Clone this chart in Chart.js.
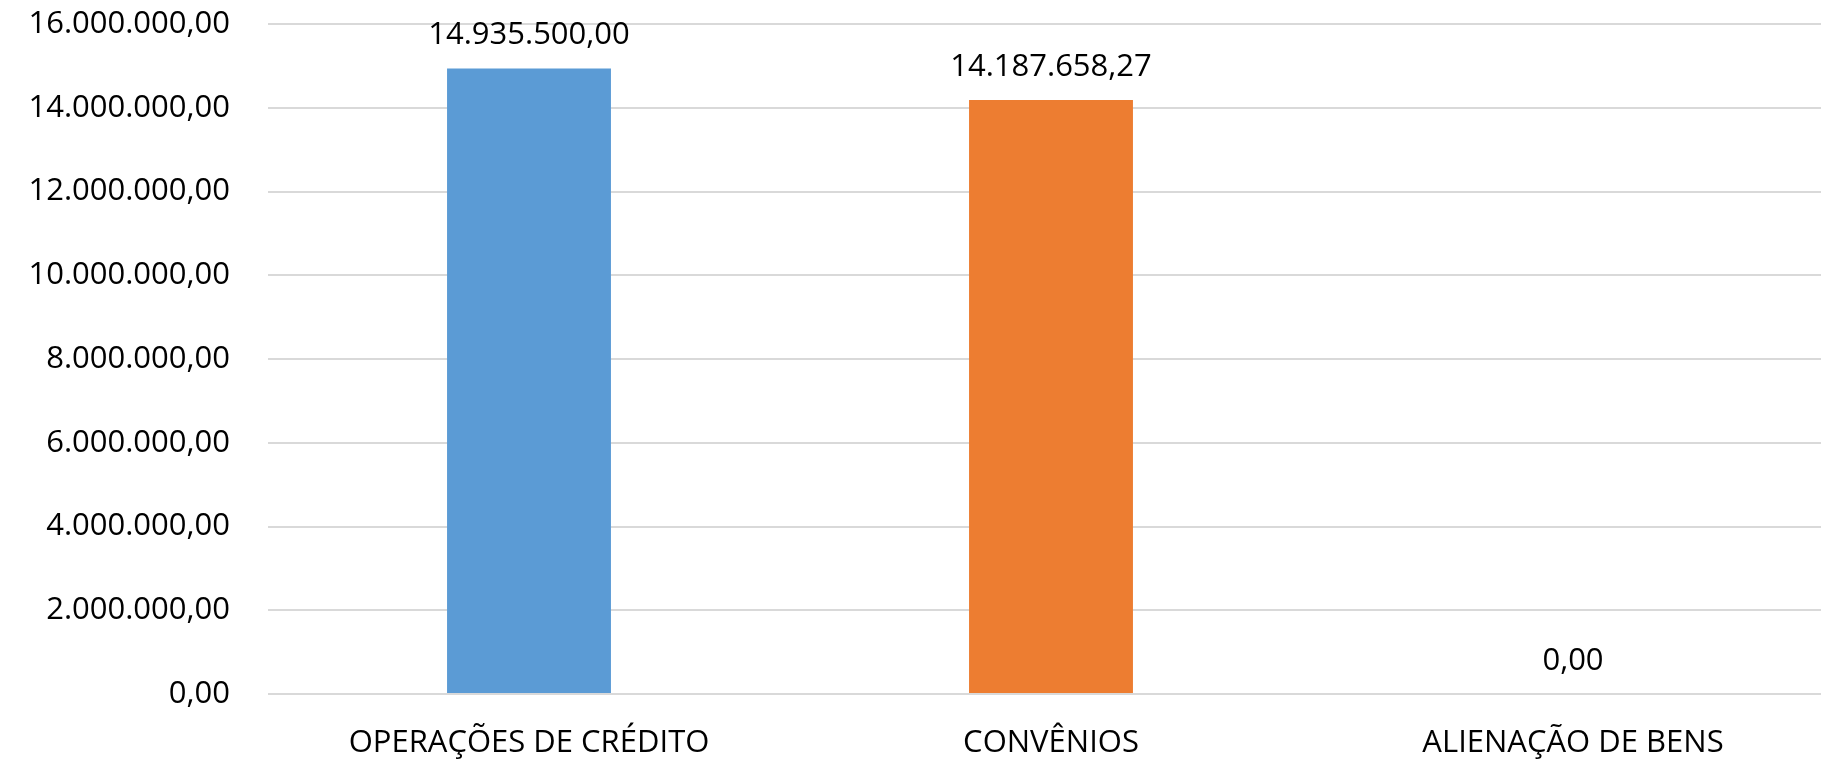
<!DOCTYPE html>
<html>
<head>
<meta charset="utf-8">
<script src="https://cdn.jsdelivr.net/npm/chart.js@4"></script>
<style>
  html, body { margin: 0; padding: 0; background: #fff; overflow: hidden; }
  #wrap { width: 1840px; height: 759px; position: relative; }
</style>
</head>
<body>
<div id="wrap"><canvas id="receitasChart"></canvas></div>
<script>
const categories = ['OPERAÇÕES DE CRÉDITO', 'CONVÊNIOS', 'ALIENAÇÃO DE BENS'];
const values = [14935500.00, 14187658.27, 0.00];
const barColors = ['#5B9BD5', '#ED7D31', '#A5A5A5'];
const yMax = 16000000;
const yStep = 2000000;

function fmtBR(v) {
    const parts = v.toFixed(2).split('.');
    return parts[0].replace(/\B(?=(\d{3})+(?!\d))/g, '.') + ',' + parts[1];
}

const FONT = "'Open Sans', 'DejaVu Sans', sans-serif";

// value labels above each bar
const valueLabels = {
    id: 'valueLabels',
    afterDatasetsDraw(chart) {
        const ctx = chart.ctx;
        const meta = chart.getDatasetMeta(0);
        ctx.save();
        ctx.font = '31px ' + FONT;
        ctx.fillStyle = '#000';
        ctx.textAlign = 'center';
        ctx.textBaseline = 'middle';
        meta.data.forEach(function (bar, i) {
            ctx.fillText(fmtBR(values[i]), bar.x, bar.y - 33);
        });
        ctx.restore();
    }
};

const ctx = document.getElementById('receitasChart').getContext('2d');
const receitasChart = new Chart(ctx, {
    type: 'bar',
    data: {
        labels: categories,
        datasets: [{
            data: values,
            backgroundColor: barColors,
            borderWidth: 0,
            categoryPercentage: 1,
            barPercentage: 0.314
        }]
    },
    options: {
        responsive: true,
        maintainAspectRatio: false,
        animation: false,
        layout: { padding: { top: 24, right: 6, bottom: 0, left: 0 } },
        plugins: {
            legend: { display: false },
            tooltip: { enabled: false }
        },
        scales: {
            x: {
                grid: { display: false, drawTicks: false },
                border: { display: false },
                ticks: {
                    color: '#000',
                    font: { family: FONT, size: 31 },
                    padding: 31,
                    maxRotation: 0,
                    autoSkip: false
                },
                afterFit: function (scale) { scale.height = 65; }
            },
            y: {
                min: 0,
                max: yMax,
                grid: { color: '#d9d9d9', lineWidth: 2, drawTicks: false },
                border: { display: false },
                ticks: {
                    stepSize: yStep,
                    color: '#000',
                    font: { family: FONT, size: 31 },
                    padding: 38,
                    callback: function (v) { return fmtBR(v); }
                },
                afterFit: function (scale) {
                    scale.width = 268;
                    // tick padding should not push the plot area down
                    scale.paddingTop = 0;
                    scale.paddingBottom = 0;
                }
            }
        }
    },
    plugins: [valueLabels]
});
</script>
</body>
</html>
